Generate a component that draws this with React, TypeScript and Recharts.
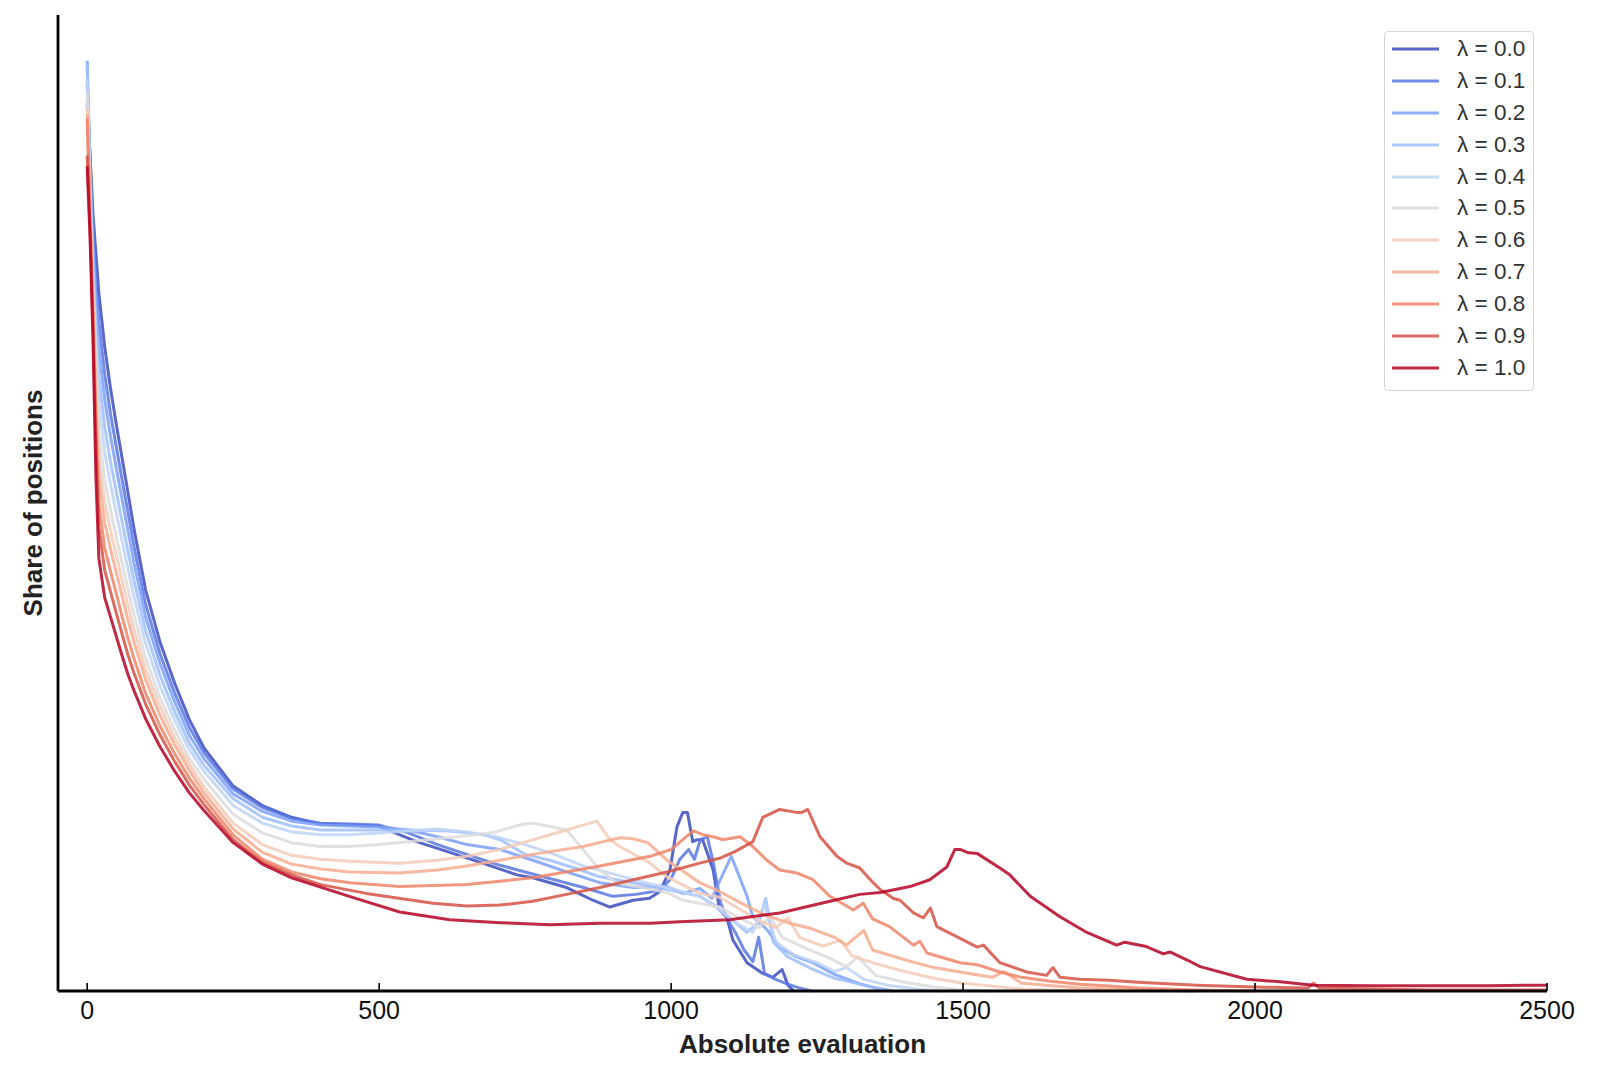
import React from "react";
import { LineChart, Line, XAxis, YAxis, Legend, Label } from "recharts";

// λ values and the shares (x = absolute evaluation, y = share, arbitrary units 0-100)
const lambdaLabels = ["λ = 0.0", "λ = 0.1", "λ = 0.2", "λ = 0.3", "λ = 0.4", "λ = 0.5", "λ = 0.6", "λ = 0.7", "λ = 0.8", "λ = 0.9", "λ = 1.0"];

const xTicks = [0, 500, 1000, 1500, 2000, 2500];

const lambda00 = [
  [0, 91], [5, 85.5], [10, 79.5], [15, 75.5], [20, 71.5], [30, 66], [40, 61.7], [50, 58], [60, 54.5], [70, 51], [80, 47.4],
  [100, 41.1], [125, 35.7], [150, 31.5], [175, 27.8], [200, 24.9], [250, 21.0], [300, 19.0], [350, 17.8], [400, 17.1],
  [450, 17.0], [500, 16.9], [523, 16.3], [564, 15.3], [621, 14.2], [677, 13.1], [736, 11.9], [763, 11.6], [821, 10.6],
  [866, 9.3], [895, 8.6], [935, 9.3], [963, 9.5], [981, 10.2], [998, 12.4], [1010, 16.8], [1020, 18.3], [1028, 18.3],
  [1037, 15.3], [1045, 15.5], [1054, 15.5], [1072, 12.4], [1083, 8.3], [1095, 7.6], [1106, 5.2], [1130, 2.9],
  [1157, 1.8], [1174, 1.4], [1190, 2.2], [1200, 0.6], [1210, 0],
];

const lambda01 = [
  [0, 93], [5, 85], [10, 78], [15, 73], [20, 68.5], [30, 63.2], [40, 59.1], [50, 55.7], [60, 52.3], [70, 49.0], [80, 45.6],
  [100, 39.6], [125, 34.5], [150, 30.5], [175, 27.0], [200, 24.4], [250, 20.7], [300, 18.8], [350, 17.7], [400, 17.2],
  [450, 17.1], [500, 17.0], [550, 16.2], [600, 15.0], [650, 14.0], [700, 13.0], [750, 12.2], [800, 11.4], [850, 10.6],
  [900, 9.7], [940, 9.9], [980, 10.3], [1000, 11.5], [1015, 13.5], [1030, 14.5], [1040, 13.5], [1050, 15.5], [1062, 15.8],
  [1072, 13.2], [1085, 9.0], [1095, 7.5], [1110, 6.0], [1125, 4.2], [1140, 3.0], [1150, 5.5], [1160, 1.8], [1175, 1.3],
  [1195, 0.8], [1220, 0.3], [1240, 0],
];

const lambda02 = [
  [0, 95.3], [5, 84], [10, 76.5], [15, 71], [20, 65.8], [30, 60.6], [40, 56.8], [50, 53.5], [60, 50.3], [70, 47.1], [80, 43.9],
  [100, 38.3], [125, 33.5], [150, 29.6], [175, 26.2], [200, 23.8], [250, 20.2], [300, 18.4], [350, 17.4], [400, 17.0],
  [450, 16.9], [500, 16.8], [550, 16.5], [600, 15.8], [650, 15.0], [707, 14.5], [763, 13.4], [821, 12.2], [878, 11.1],
  [935, 10.6], [993, 10.7], [1020, 10.0], [1049, 10.5], [1070, 9.5], [1085, 11.5], [1103, 13.8], [1115, 12.0],
  [1130, 9.7], [1140, 7.6], [1164, 6.3], [1186, 4.5], [1215, 3.5], [1243, 2.9], [1280, 1.7], [1320, 0.8], [1350, 0.3],
  [1380, 0],
];

const lambda03 = [
  [0, 95], [5, 83], [10, 75], [15, 68.5], [20, 62.9], [30, 57.8], [40, 54.2], [50, 51.1], [60, 48.0], [70, 45.0], [80, 42.1],
  [100, 36.9], [125, 32.3], [150, 28.6], [175, 25.4], [200, 23.1], [250, 19.7], [300, 17.8], [350, 16.9], [400, 16.5],
  [450, 16.5], [500, 16.5], [550, 16.5], [621, 16.4], [680, 16.0], [707, 15.5], [750, 14.0], [792, 13.4], [840, 12.5],
  [878, 11.7], [935, 11.1], [993, 10.4], [1049, 9.7], [1083, 8.5], [1100, 7.5], [1130, 6.0], [1150, 7.0], [1162, 9.5],
  [1175, 5.0], [1200, 3.5], [1240, 2.3], [1280, 1.3], [1330, 0.6], [1380, 0],
];

const lambda04 = [
  [0, 93.5], [5, 82], [10, 73.5], [15, 66.5], [20, 60.2], [30, 55.2], [40, 51.9], [50, 48.9], [60, 46.0], [70, 43.2], [80, 40.4],
  [100, 35.6], [125, 31.2], [150, 27.7], [175, 24.7], [200, 22.5], [250, 19.0], [300, 17.2], [350, 16.3], [400, 16.0],
  [450, 16.0], [500, 16.2], [550, 16.4], [600, 16.6], [650, 16.3], [700, 15.8], [750, 15.0], [800, 14.0], [850, 12.8],
  [900, 12.0], [950, 11.2], [1000, 10.5], [1049, 9.7], [1083, 8.3], [1110, 7.0], [1140, 6.0], [1160, 8.8], [1180, 5.0],
  [1210, 3.7], [1250, 2.9], [1280, 2.0], [1300, 2.4], [1330, 1.2], [1370, 0.6], [1420, 0.2], [1460, 0],
];

const lambda05 = [
  [0, 92], [5, 81], [10, 72], [15, 64], [20, 57.2], [30, 52.4], [40, 49.3], [50, 46.5], [60, 43.8], [70, 41.1], [80, 38.6],
  [100, 34.1], [125, 30.0], [150, 26.7], [175, 23.8], [200, 21.7], [250, 18.1], [300, 16.2], [350, 15.2], [400, 14.8],
  [450, 14.8], [500, 15.0], [550, 15.3], [600, 15.6], [650, 15.9], [700, 16.3], [740, 17.0], [763, 17.2], [797, 16.8],
  [821, 16.5], [849, 14.5], [878, 12.4], [906, 11.1], [950, 10.6], [993, 10.1], [1020, 9.3], [1049, 9.0], [1083, 8.6],
  [1120, 7.4], [1150, 6.5], [1170, 7.6], [1190, 5.5], [1230, 4.4], [1270, 3.4], [1300, 2.5], [1320, 3.5], [1350, 1.6],
  [1400, 0.9], [1450, 0.4], [1500, 0.1], [1550, 0],
];

const lambda06 = [
  [0, 90.5], [5, 80.5], [10, 71], [15, 62], [20, 54.8], [30, 50.1], [40, 47.2], [50, 44.6], [60, 42.0], [70, 39.5], [80, 37.1],
  [100, 32.9], [125, 29.1], [150, 25.9], [175, 23.2], [200, 20.9], [250, 17.2], [300, 15.0], [350, 13.9], [400, 13.5],
  [450, 13.3], [535, 13.1], [600, 13.4], [650, 13.8], [707, 14.5], [763, 15.5], [821, 16.5], [849, 17.0], [873, 17.4],
  [895, 15.5], [912, 14.8], [964, 13.1], [993, 11.7], [1049, 10.0], [1083, 9.6], [1120, 8.3], [1150, 7.2], [1180, 6.5],
  [1200, 7.5], [1220, 5.5], [1260, 4.6], [1290, 5.2], [1310, 3.6], [1350, 2.8], [1400, 2.0], [1450, 1.3], [1500, 0.8],
  [1550, 0.5], [1600, 0.2], [1700, 0],
];

const lambda07 = [
  [0, 89.8], [5, 80], [10, 70], [15, 60], [20, 52.6], [30, 48.0], [40, 45.3], [50, 42.8], [60, 40.4], [70, 38.0], [80, 35.8],
  [100, 31.9], [125, 28.2], [150, 25.2], [175, 22.6], [200, 20.3], [250, 16.6], [300, 14.2], [350, 13.0], [400, 12.5],
  [450, 12.2], [535, 12.1], [600, 12.4], [650, 12.8], [707, 13.4], [763, 14.0], [849, 14.8], [912, 15.7], [935, 15.6],
  [960, 15.2], [993, 13.4], [1020, 12.3], [1049, 11.1], [1083, 10.2], [1120, 9.0], [1160, 7.8], [1200, 7.0], [1240, 6.4],
  [1280, 5.5], [1300, 4.7], [1330, 6.2], [1345, 4.2], [1400, 3.2], [1450, 2.4], [1500, 1.9], [1550, 1.4], [1570, 2.0],
  [1600, 0.8], [1700, 0.3], [1800, 0.1], [1900, 0],
];

const lambda08 = [
  [0, 89.4], [5, 79], [10, 69], [15, 58], [20, 49.9], [30, 45.4], [40, 43.0], [50, 40.7], [60, 38.3], [70, 36.1], [80, 34.1],
  [100, 30.5], [125, 27.1], [150, 24.3], [175, 21.8], [200, 19.7], [250, 16.0], [300, 13.5], [350, 12.2], [400, 11.5],
  [450, 11.1], [535, 10.7], [650, 10.9], [763, 11.6], [878, 12.8], [964, 13.8], [1000, 14.5], [1020, 15.5], [1038, 16.4],
  [1055, 16.0], [1072, 15.8], [1089, 15.5], [1118, 15.8], [1140, 14.8], [1164, 13.4], [1186, 12.4], [1215, 12.1],
  [1243, 11.4], [1272, 9.7], [1312, 8.3], [1329, 9.0], [1345, 7.4], [1374, 6.6], [1415, 4.7], [1426, 5.1], [1438, 3.9],
  [1495, 2.9], [1524, 2.7], [1560, 2.0], [1600, 1.4], [1650, 1.0], [1700, 0.7], [1750, 0.5], [1800, 0.3], [1900, 0.1],
  [2000, 0],
];

const lambda09 = [
  [0, 85.6], [5, 78], [10, 68], [15, 56], [20, 47.5], [30, 43.1], [40, 40.9], [50, 38.7], [60, 36.5], [70, 34.4], [80, 32.6],
  [100, 29.4], [125, 26.2], [150, 23.5], [175, 21.1], [200, 19.1], [250, 15.5], [300, 13.2], [350, 11.9], [400, 10.9],
  [478, 10.0], [592, 9.0], [650, 8.7], [707, 8.8], [763, 9.2], [821, 9.9], [878, 10.6], [935, 11.4], [993, 12.2],
  [1049, 13.1], [1083, 13.6], [1110, 14.3], [1140, 15.3], [1157, 17.8], [1186, 18.6], [1215, 18.3], [1224, 18.3],
  [1234, 18.6], [1255, 15.8], [1284, 13.8], [1301, 13.1], [1323, 12.6], [1346, 11.1], [1358, 10.4], [1380, 9.5],
  [1392, 9.3], [1415, 8.0], [1432, 7.5], [1444, 8.5], [1455, 6.6], [1495, 5.4], [1524, 4.5], [1535, 4.7], [1563, 2.9],
  [1609, 1.95], [1643, 1.6], [1654, 2.4], [1666, 1.4], [1700, 1.2], [1750, 1.1], [1800, 0.9], [1900, 0.6], [2000, 0.4],
  [2090, 0.3], [2100, 0.8], [2110, 0.3], [2200, 0.2], [2300, 0.1], [2500, 0.1],
];

const lambda10 = [
  [0, 84.5], [5, 77], [10, 66.5], [15, 52.5], [20, 44.3], [30, 40.3], [40, 38.3], [50, 36.3], [60, 34.3], [70, 32.4],
  [80, 30.8], [100, 27.9], [125, 25.0], [150, 22.5], [175, 20.3], [200, 18.5], [250, 15.2], [300, 13.0], [350, 11.6],
  [449, 9.7], [535, 8.1], [621, 7.3], [707, 7.0], [792, 6.8], [878, 6.95], [964, 6.95], [1015, 7.1], [1100, 7.3],
  [1186, 8.0], [1272, 9.2], [1323, 9.9], [1358, 10.1], [1409, 10.7], [1443, 11.4], [1472, 12.7], [1486, 14.5],
  [1495, 14.5], [1507, 14.2], [1524, 14.1], [1563, 12.6], [1580, 11.9], [1615, 9.7], [1666, 7.6], [1712, 6.0],
  [1763, 4.7], [1777, 5.0], [1814, 4.55], [1843, 3.8], [1854, 4.0], [1883, 3.2], [1906, 2.5], [1986, 1.2], [2043, 0.95],
  [2100, 0.6], [2200, 0.55], [2300, 0.55], [2400, 0.55], [2500, 0.6],
];

// coolwarm palette, one colour per λ
const coolwarm = ["#3b4cc0", "#5977e3", "#7b9ff9", "#9ebeff", "#c0d4f5", "#dddcdc", "#f2cbb7", "#f7ac8e", "#ee8468", "#d65244", "#b40426"];

const seriesValues = [lambda00, lambda01, lambda02, lambda03, lambda04, lambda05, lambda06, lambda07, lambda08, lambda09, lambda10];

const series = seriesValues.map((pts, i) => ({
  name: lambdaLabels[i],
  color: coolwarm[i],
  data: pts.map(([x, share]) => ({ x, share })),
}));

const FONT = '"Liberation Sans", Arial, Helvetica, sans-serif';

// ticks point inward (up from the spine), label below
function XTick(props: any) {
  const { x, y, payload } = props;
  const axisY = y - 10;
  return (
    <g>
      <line x1={x} x2={x} y1={axisY} y2={axisY - 8} stroke="#000" strokeWidth={1.6} />
      <text x={x} y={y} dy="0.72em" textAnchor="middle" fontSize={25} fontFamily={FONT} fill="#111">
        {payload.value}
      </text>
    </g>
  );
}

function LambdaLegend() {
  return (
    <div
      style={{
        border: "1px solid #d6d6d6",
        borderRadius: 4,
        background: "rgba(255,255,255,0.85)",
        padding: "1px 0 6px 0",
        width: 150,
        boxSizing: "border-box",
      }}
    >
      {series.map((s) => (
        <div key={s.name} style={{ height: 31.9, display: "flex", alignItems: "center" }}>
          <svg width={62} height={10} style={{ marginLeft: 7, flex: "none" }}>
            <line x1={0} x2={47} y1={5} y2={5} stroke={s.color} strokeOpacity={0.85} strokeWidth={3.2} />
          </svg>
          <span style={{ marginLeft: 3, fontSize: 22.5, fontFamily: FONT, color: "#333", whiteSpace: "nowrap" }}>
            {s.name}
          </span>
        </div>
      ))}
    </div>
  );
}

export default function App() {
  return (
    <div style={{ width: 1584, height: 1051, background: "#fff" }}>
      <LineChart width={1584} height={1051} margin={{ top: 7, right: 45, left: 0, bottom: 0 }}>
        <XAxis
          type="number"
          dataKey="x"
          domain={[-50, 2500]}
          ticks={xTicks}
          height={68}
          tickSize={0}
          tickMargin={10}
          tickLine={false}
          tick={<XTick />}
          axisLine={{ stroke: "#000", strokeWidth: 2.8 }}
        >
          <Label
            value="Absolute evaluation"
            position="insideBottom"
            offset={6}
            style={{ fontSize: 26, fontWeight: 700, fontFamily: FONT, fill: "#222" }}
          />
        </XAxis>
        <YAxis
          type="number"
          domain={[0, 100]}
          width={50}
          tick={false}
          tickLine={false}
          axisLine={{ stroke: "#000", strokeWidth: 2.8 }}
        >
          <Label
            value="Share of positions"
            angle={-90}
            position="center"
            style={{ fontSize: 26, fontWeight: 700, fontFamily: FONT, fill: "#222", textAnchor: "middle" }}
          />
        </YAxis>
        <Legend
          layout="vertical"
          align="center"
          verticalAlign="middle"
          content={() => <LambdaLegend />}
          wrapperStyle={{ top: 23, left: 1376, width: 150 }}
        />
        {series.map((s) => (
          <Line
            key={s.name}
            data={s.data}
            dataKey="share"
            name={s.name}
            type="linear"
            stroke={s.color}
            strokeOpacity={0.85}
            strokeWidth={3}
            strokeLinejoin="round"
            dot={false}
            activeDot={false}
            isAnimationActive={false}
          />
        ))}
      </LineChart>
    </div>
  );
}
